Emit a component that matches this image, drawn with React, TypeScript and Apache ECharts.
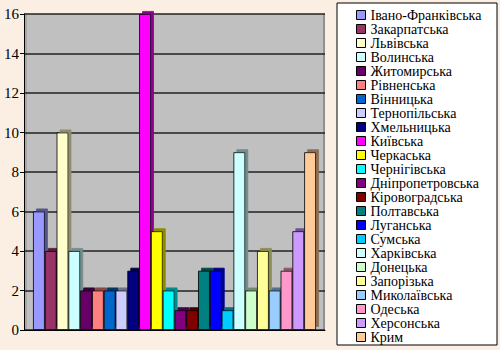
import React, { useEffect, useRef } from "react";
import * as echarts from "echarts";

const regions = [
  "Івано-Франківська", "Закарпатська", "Львівська", "Волинська", "Житомирська", "Рівненська",
  "Вінницька", "Тернопільська", "Хмельницька", "Київська", "Черкаська", "Чернігівська",
  "Дніпропетровська", "Кіровоградська", "Полтавська", "Луганська", "Сумська", "Харківська",
  "Донецька", "Запорізька", "Миколаївська", "Одеська", "Херсонська", "Крим",
];
const values = [6, 4, 10, 4, 2, 2, 2, 2, 3, 16, 5, 2, 1, 1, 3, 3, 1, 9, 2, 4, 2, 3, 5, 9];
const colors = [
  "#9999FF", "#993366", "#FFFFCC", "#CCFFFF", "#660066", "#FF8080",
  "#0066CC", "#CCCCFF", "#000080", "#FF00FF", "#FFFF00", "#00FFFF",
  "#800080", "#800000", "#008080", "#0000FF", "#00CCFF", "#CCFFFF",
  "#CCFFCC", "#FFFF99", "#99CCFF", "#FF99CC", "#CC99FF", "#FFCC99",
];
const yTicks = { min: 0, max: 16, interval: 2 };

function darken(hex: string, f: number) {
  const n = parseInt(hex.slice(1), 16);
  const r = Math.round(((n >> 16) & 255) * f);
  const g = Math.round(((n >> 8) & 255) * f);
  const b = Math.round((n & 255) * f);
  return `rgb(${r},${g},${b})`;
}

export default function App() {
  const ref = useRef<HTMLDivElement>(null);
  useEffect(() => {
    const chart = echarts.init(ref.current!, null, { renderer: "svg" });
    const font = "Liberation Serif";
    chart.setOption({
      animation: false,
      backgroundColor: "#FBEFE4",
      textStyle: { fontFamily: font },
      graphic: [
        {
          type: "rect",
          shape: { x: 337, y: 3, width: 160, height: 342 },
          style: { fill: "#FFFFFF", stroke: "#000000", lineWidth: 1 },
          z: -1,
        },
        {
          type: "rect",
          shape: { x: 24, y: 14, width: 3, height: 316 },
          style: { fill: "#A8A8A8" },
          z: 0,
        },
        {
          type: "rect",
          shape: { x: 323, y: 14, width: 2, height: 316 },
          style: { fill: "#909090" },
          z: 0,
        },
      ],
      grid: {
        left: 24, right: 175, top: 14, bottom: 20,
        outerBoundsMode: "none", containLabel: false,
        show: true, backgroundColor: "#C0C0C0", borderWidth: 0,
      },
      legend: {
        orient: "vertical",
        left: 356,
        top: 8,
        padding: 0,
        itemWidth: 9,
        itemHeight: 9,
        itemGap: 0,
        icon: "rect",
        textStyle: { fontFamily: font, fontSize: 14, lineHeight: 14, color: "#000" },
        data: regions.map((r) => ({ name: r, itemStyle: { borderColor: "#000", borderWidth: 1 } })),
      },
      xAxis: {
        type: "category",
        data: [""],
        axisLine: { lineStyle: { color: "#000" } },
        axisTick: { show: false },
        axisLabel: { show: false },
      },
      yAxis: {
        type: "value",
        min: yTicks.min,
        max: yTicks.max,
        interval: yTicks.interval,
        axisLine: { show: true, lineStyle: { color: "#000" } },
        axisTick: { show: true, length: 4, lineStyle: { color: "#000" } },
        axisLabel: { fontFamily: font, fontSize: 15, color: "#000", margin: 5 },
        splitLine: { lineStyle: { color: "#222", width: 1.5 } },
      },
      series: regions.map((name, i) => ({
        name,
        type: "bar",
        data: [values[i]],
        barGap: "0%",
        barCategoryGap: "6%",
        itemStyle: {
          color: colors[i],
          borderColor: "#000",
          borderWidth: 0.8,
          shadowColor: darken(colors[i], 0.55),
          shadowOffsetX: 3,
          shadowOffsetY: -3,
          shadowBlur: 0,
        },
      })),
    });
    return () => chart.dispose();
  }, []);
  return (
    <div style={{ position: "fixed", left: 0, top: 0, width: 500, height: 350 }}>
      <style>{"svg text { font-family: 'Liberation Serif', serif !important; }"}</style>
      <div ref={ref} style={{ width: 500, height: 350 }} />
    </div>
  );
}
